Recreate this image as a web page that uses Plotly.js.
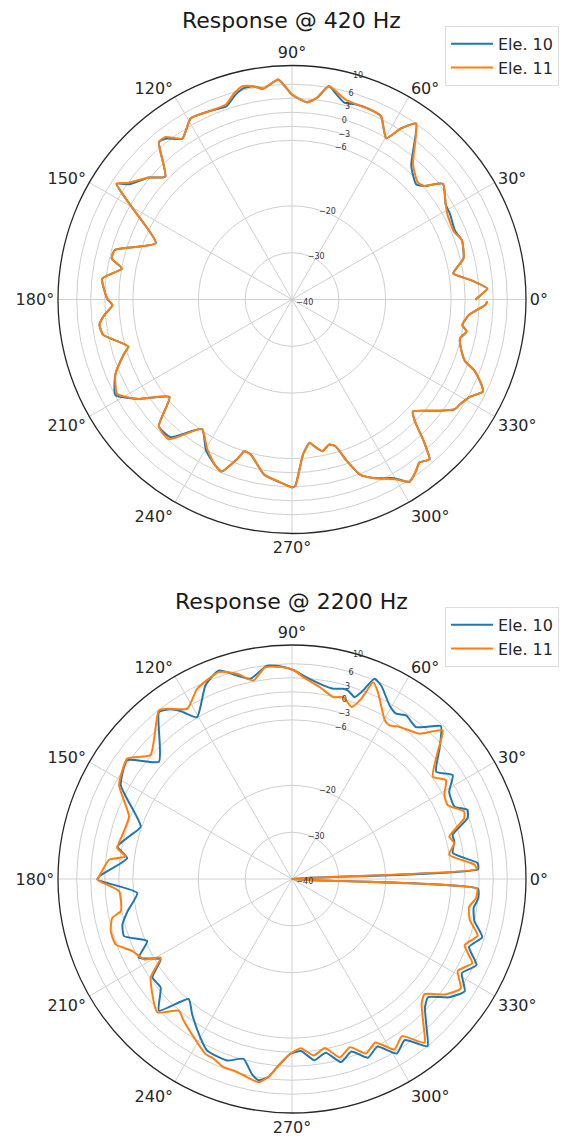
<!DOCTYPE html>
<html><head><meta charset="utf-8">
<script src="https://cdn.plot.ly/plotly-3.0.1.min.js"></script>
<style>body{margin:0;background:#fff}#chart{width:564px;height:1144px}</style>
</head><body><div id="chart"></div>
<script>
// ---- 420 Hz ----
const theta420 = [0,1.5,3.2,6.1,9.2,13.5,19.3,22.8,28.6,31.7,37.5,40.6,42.9,48.3,54.8,57.5,59.7,64.1,67.4,71.5,75,77.7,80.2,82.9,85.7,90,91.9,93.6,97.8,100.4,103,105.6,108.7,113.8,119.2,124.3,127.9,130.2,135.9,139.6,144.7,146.6,150.2,157.5,164.4,167.2,169.7,173.7,179.7,181.8,184.75,187.5,190.6,196,198.1,203,208.4,213,218.5,223.6,228.6,235.2,240.3,245,247.7,251.2,252.6,255.2,260.9,266.3,270.1,271,274.1,277,278.7,281.4,284.3,286.5,288.8,291.3,294.9,299.8,302.8,306,308,310.7,312.75,315.4,317.2,322.6,325.9,328.5,331.2,334.3,335.9,338.6,340.4,343,347,349.6,351.5,355,358.5,359.5];
const r420_ele11 = [-0.8,0.5,1.8,-1.4,-5.1,-2.3,-1.55,-2.5,-2.15,-1.4,0.65,-2.7,-3.3,-1.15,6.0,3.35,-0.1,3.55,3.9,3.9,4.2,5.3,6.3,3.45,2.25,3.8,5.6,7.1,5.45,6.35,6.8,5.8,4.0,3.95,4.35,1.6,4.0,4.05,-2.3,0.2,3.1,4.9,-0.75,-8.5,-0.7,-0.5,-3.05,0.8,-0.5,-1.6,0.25,1.5,1.05,-3.6,-2.15,1.0,2.45,-1.0,-6.55,-0.7,-0.2,-6.3,-3.35,-1.0,-0.3,-4.2,-6.0,-5.7,-2.15,-0.85,0.15,-0.15,-6.85,-9.15,-8.25,-6.95,-8.0,-7.3,-3.5,0.2,2.1,4.25,6.35,5.15,4.2,5.05,1.65,-3.2,-4.8,-0.85,1.9,2.4,3.25,5.3,4.3,1.95,-0.75,-2.1,-3.15,-2.05,-3.2,-2.05,1.4,1.7];
const r420_ele10 = [-0.8,0.5,1.8,-1.4,-5.1,-2.3,-1.55,-2.2,-1.6,-1.4,0.65,-2.7,-3.8,-1.7,6.0,3.35,-0.1,3.55,3.9,3.9,3.5,4.8,6.3,3.45,2.25,3.8,5.6,7.1,5.45,6.35,6.3,5.3,3.6,3.95,4.35,1.6,3.6,4.05,-2.3,0.2,2.6,4.9,-0.75,-8.5,-0.7,-0.5,-3.05,0.8,-0.5,-1.6,0.25,1.5,1.05,-3.6,-2.15,1.0,2.9,-1.0,-6.55,-0.7,-0.8,-6.3,-2.9,-1.0,-0.3,-4.2,-6.0,-5.7,-2.15,-0.85,0.15,-0.15,-6.85,-9.15,-8.25,-6.95,-8.0,-7.3,-3.5,0.2,2.1,4.0,6.35,5.15,4.2,5.05,1.65,-3.2,-4.8,-0.85,1.9,2.4,3.25,5.3,4.3,1.95,-0.75,-2.1,-3.15,-2.05,-3.2,-2.05,1.4,1.7];

// ---- 2200 Hz ----
const theta2200_ele10 = [0,3,4.9,9.15,13,15.4,19.1,21.5,24,29,32.9,36.65,41.5,45.75,48.6,50.8,55.1,57.8,60.65,65.2,67.6,69.6,71,73.4,75,77.8,80.8,86.8,89.2,92.3,96.7,101.8,109.4,114.1,120.4,123.5,126,128.6,138.6,144.2,151.3,160.9,165.4,169.45,172.8,179.2,180.2,185.15,191.1,195,198.8,203.2,207.2,211.4,215.2,219.55,224.7,229.3,233.5,239.9,243.65,250.3,254.9,258.35,260.55,263.2,266.3,269.35,273,277,281,285,289,293,297,301,305,309,312,316,319,323,327,331,335,339,343,347,351,354,357,360];
const r2200_ele10 = [-40,-0.2,-0.2,-5.2,-4.4,-4.4,-0.3,0.3,-2.0,-1.6,0.9,-1.6,2.1,5.6,3.3,1.9,2.6,1.75,2.55,5.5,6.3,2.6,1.1,2.0,2.1,1.6,1.9,3.5,4.5,5.35,5.9,3.7,7.2,5.3,0.1,3.0,4.8,5.6,-2.1,3.4,1.7,-5.8,-4.0,-2.05,-4.5,1.2,1.56,-6.8,-4.2,-2.5,-2.1,-6.35,-3.2,-7.1,-3.5,-3.6,0.0,-6.15,-4.1,-0.9,0.9,1.2,-0.2,2.5,3.6,2.6,-0.4,-2.6,-3.2,-1.0,-2.2,0.5,-1.0,1.5,0.2,3.5,2.0,6.0,3.0,-0.5,-1.5,2.0,4.0,1.5,3.5,0.5,2.5,0.0,-0.7,0.0,-0.2,-40];
const theta2200_ele11 = [0,3,4.5,8.75,12.45,15.1,19.4,21.4,25.4,28.9,32.7,36,41.1,44.6,48.75,54.7,57.6,59.7,65.3,67.6,68.95,70.9,74.3,77.25,81.7,86.8,89.2,92.3,97.2,101,105,109.5,116.5,121.6,125.9,128.3,138.8,143.8,151.5,159,165.4,170,172.3,174,179.2,180.2,184.1,190.6,192.2,196,200.35,204.3,208.5,210.9,214.9,224.7,229.3,232.6,238.2,243.65,246.5,250,253,256.1,260.6,263.2,266.3,269.35,273,277,281,285,289,293,297,301,305,309,312,316,319,323,327,331,335,339,343,347,351,354,357,360];
const r2200_ele11 = [-40,-0.5,-0.9,-6.0,-4.5,-5.2,-1.0,-0.5,-3.2,-2.8,-0.9,-2.8,1.3,5.2,1.3,-0.2,-1.1,-0.7,3.95,5.5,1.3,-1.1,0.4,-0.15,1.4,3.2,4.5,5.3,5.6,3.2,5.4,6.9,5.4,2.7,4.9,5.9,0.2,3.6,2.05,-2.7,-2.55,-2.1,-4.1,-0.7,1.2,1.56,-3.0,-2.8,-0.7,0.3,0.2,-2.6,-4.0,-7.3,-3.2,0.5,-2.9,-1.9,-0.2,1.7,1.9,2.8,2.8,3.2,4.0,2.6,-0.4,-2.6,-3.8,-2.0,-3.2,-0.5,-2.0,0.5,-0.8,2.5,1.0,5.0,2.0,-1.5,-2.5,1.0,3.0,0.5,2.5,-0.5,1.5,-1.0,-1.7,-0.5,-0.4,-40];

// ---- axes / labels ----
const angleTicks = [0,30,60,90,120,150,180,210,240,270,300,330];
const angleLabels = ['0°','30°','60°','90°','120°','150°','180°','210°','240°','270°','300°','330°'];
const radialTicks = [-40,-30,-20,-6,-3,0,3,6,10];
const radialLabels = ['\u221240','\u221230','\u221220','\u22126','\u22123','0','3','6','10'];
const seriesNames = ['Ele. 10','Ele. 11'];
const titles = ['Response @ 420 Hz','Response @ 2200 Hz'];

const BLUE = '#1f77b4', ORANGE = '#ff7f0e';
const FONT = 'DejaVu Sans, Liberation Sans, sans-serif';
const RAD_ANGLE = 76;

function polarCfg(dy){
  return {
    domain:{x:[0.10284,0.93262], y:dy},
    bgcolor:'#ffffff',
    angularaxis:{
      direction:'counterclockwise', rotation:0,
      tickmode:'array', tickvals:angleTicks, ticktext:angleLabels,
      ticks:'', showline:true, linecolor:'#262626', linewidth:1.3,
      gridcolor:'#cfcfcf', gridwidth:1,
      tickfont:{size:16, color:'#262626', family:FONT}
    },
    radialaxis:{
      range:[-40,10], tickmode:'array', tickvals:radialTicks, ticktext:radialLabels,
      showline:false, ticks:'', angle:RAD_ANGLE, side:'clockwise', tickangle:RAD_ANGLE,
      gridcolor:'#cfcfcf', gridwidth:1,
      tickfont:{size:8, color:'#333333', family:FONT}
    }
  };
}

const lineStyle = (c) => ({color:c, width:2, shape:'spline', smoothing:0.5});

const traces = [
  {type:'scatterpolar', mode:'lines', theta:theta420, r:r420_ele10, name:seriesNames[0], subplot:'polar', legend:'legend', line:lineStyle(BLUE)},
  {type:'scatterpolar', mode:'lines', theta:theta420, r:r420_ele11, name:seriesNames[1], subplot:'polar', legend:'legend', line:lineStyle(ORANGE)},
  {type:'scatterpolar', mode:'lines', theta:theta2200_ele10, r:r2200_ele10, name:seriesNames[0], subplot:'polar2', legend:'legend2', line:lineStyle(BLUE)},
  {type:'scatterpolar', mode:'lines', theta:theta2200_ele11, r:r2200_ele11, name:seriesNames[1], subplot:'polar2', legend:'legend2', line:lineStyle(ORANGE)}
];

const legendCfg = (y) => ({
  x:0.789, y:y, xanchor:'left', yanchor:'top',
  bgcolor:'rgba(255,255,255,0.85)', bordercolor:'#dcdcdc', borderwidth:1,
  font:{size:16, color:'#262626', family:FONT}, itemwidth:42, tracegroupgap:0
});

const layout = {
  width:564, height:1144,
  margin:{l:0,r:0,t:0,b:0},
  paper_bgcolor:'#ffffff',
  font:{family:FONT, color:'#262626'},
  showlegend:true,
  polar:polarCfg([0.53365,0.94274]),
  polar2:polarCfg([0.0271,0.43619]),
  legend:legendCfg(0.9775),
  legend2:legendCfg(0.4695),
  annotations:[
    {text:titles[0], x:0.5177, y:0.9825, xref:'paper', yref:'paper', showarrow:false, xanchor:'center', yanchor:'middle', font:{size:22, color:'#1a1a1a', family:FONT}},
    {text:titles[1], x:0.5177, y:0.4745, xref:'paper', yref:'paper', showarrow:false, xanchor:'center', yanchor:'middle', font:{size:22, color:'#1a1a1a', family:FONT}}
  ]
};

Plotly.newPlot('chart', traces, layout, {displayModeBar:false, staticPlot:true});
</script>
</body></html>
